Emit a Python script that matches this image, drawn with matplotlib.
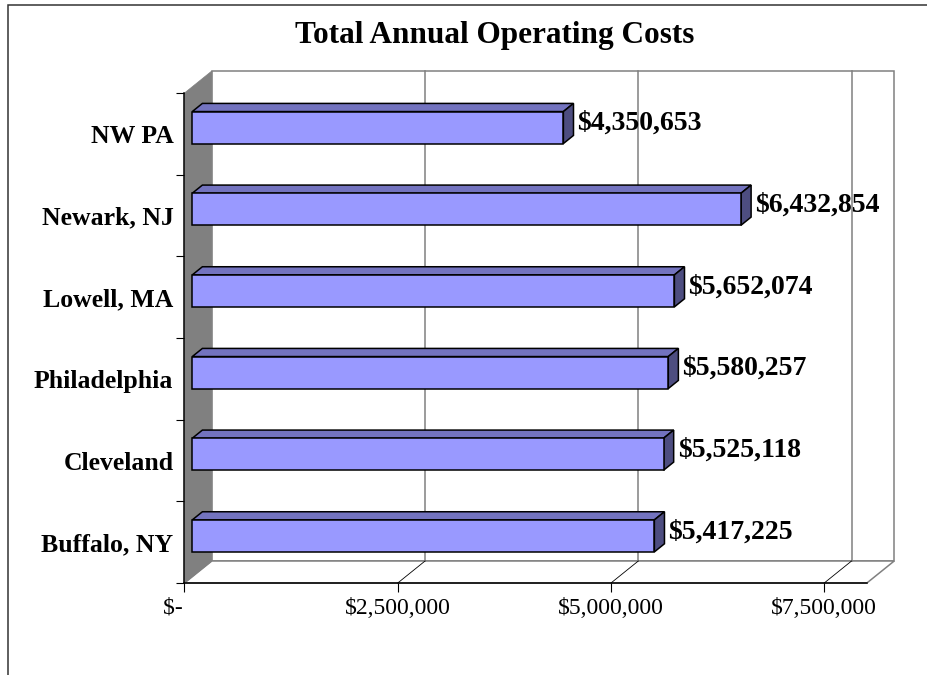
import matplotlib
matplotlib.use('Agg')
import matplotlib.pyplot as plt
from matplotlib.patches import Polygon, Rectangle
from matplotlib.lines import Line2D
from matplotlib.transforms import IdentityTransform

# data (bottom to top)
cities = ['Buffalo, NY', 'Cleveland', 'Philadelphia', 'Lowell, MA', 'Newark, NJ', 'NW PA']
costs = [5417225, 5525118, 5580257, 5652074, 6432854, 4350653]
x_ticks = [0, 2500000, 5000000, 7500000]
x_max = 8000000
title = 'Total Annual Operating Costs'

plt.rcParams['font.family'] = ['Liberation Serif', 'DejaVu Serif']

fig = plt.figure(figsize=(9.28, 6.75), dpi=100)
fig.patch.set_facecolor('white')
ax = fig.add_axes([184.5 / 928, 92 / 675, 682.4 / 928, 490 / 675])
ax.set_xlim(0, x_max)
ax.set_ylim(-0.5, len(cities) - 0.5)
ax.patch.set_visible(False)

# fake 3d: how far the back wall is shifted, in pixels
dx, dy = 27.3, 22.0
z0, z1 = 0.285, 0.655   # depth of the bars
h = 0.392               # bar thickness in category units


def pt(x, y, z):
    px, py = ax.transData.transform((x, y))
    return (px + z * dx, py + z * dy)


def poly(pts, **kw):
    ax.add_patch(Polygon(pts, closed=True, transform=IdentityTransform(),
                         clip_on=False, **kw))


def seg(a, b, **kw):
    ax.add_line(Line2D([a[0], b[0]], [a[1], b[1]], transform=IdentityTransform(),
                       clip_on=False, **kw))


ylo, yhi = -0.5, len(cities) - 0.5

# walls and floor
poly([pt(0, ylo, 1), pt(x_max, ylo, 1), pt(x_max, yhi, 1), pt(0, yhi, 1)],
     fc='white', ec='#808080', lw=1.1, zorder=1)
poly([pt(0, ylo, 0), pt(x_max, ylo, 0), pt(x_max, ylo, 1), pt(0, ylo, 1)],
     fc='white', ec='#808080', lw=1.1, zorder=1)
for t in x_ticks[1:]:
    seg(pt(t, ylo, 1), pt(t, yhi, 1), color='#808080', lw=1.1, zorder=1.1)
    seg(pt(t, ylo, 0), pt(t, ylo, 1), color='black', lw=0.6, zorder=1.1)
poly([pt(0, ylo, 0), pt(0, yhi, 0), pt(0, yhi, 1), pt(0, ylo, 1)],
     fc='#808080', ec='#808080', lw=0.5, zorder=1.2)

# bars
for i, v in enumerate(costs):
    b, t = i - h / 2, i + h / 2
    poly([pt(0, t, z0), pt(v, t, z0), pt(v, t, z1), pt(0, t, z1)],
         fc='#7373BF', ec='black', lw=1.1, zorder=3)
    poly([pt(v, b, z0), pt(v, b, z1), pt(v, t, z1), pt(v, t, z0)],
         fc='#4D4D80', ec='black', lw=1.1, zorder=3)
    poly([pt(0, b, z0), pt(v, b, z0), pt(v, t, z0), pt(0, t, z0)],
         fc='#9999FF', ec='black', lw=1.1, zorder=3.1)
    ax.annotate('${:,}'.format(v), xy=(v, i), xytext=(z1 * dx + 4, (z0 + z1) / 2 * dy),
                textcoords='offset pixels', ha='left', va='center',
                fontsize=20, fontweight='bold', annotation_clip=False)

# axes
for s in ['top', 'right']:
    ax.spines[s].set_visible(False)
for s in ['bottom', 'left']:
    ax.spines[s].set_linewidth(1.1)
    ax.spines[s].set_zorder(2)

ax.set_xticks(x_ticks)
ax.set_xticklabels(['$-    '] + ['${:,}'.format(t) for t in x_ticks[1:]])
ax.tick_params(axis='x', direction='out', length=6.5, width=0.8, labelsize=17, pad=4)

ax.set_yticks([i - 0.5 for i in range(len(cities) + 1)])
ax.set_yticklabels([])
ax.set_yticks(range(len(cities)), minor=True)
ax.set_yticklabels(cities, minor=True, fontsize=18.5, fontweight='bold')
ax.tick_params(axis='y', which='major', direction='out', length=5.5, width=0.8)
ax.tick_params(axis='y', which='minor', length=0, pad=8)

fig.text(495 / 928, 1 - 36 / 675, title, ha='center', va='center',
         fontsize=22.5, fontweight='bold')

# chart border (runs off the right and bottom of the picture)
fig.add_artist(Rectangle((8 / 928, -0.5), 2, 1.5 - 5 / 675, transform=fig.transFigure,
                         fill=False, ec='#333333', lw=1.1))

fig.savefig('out.png', dpi=100, facecolor='white')
